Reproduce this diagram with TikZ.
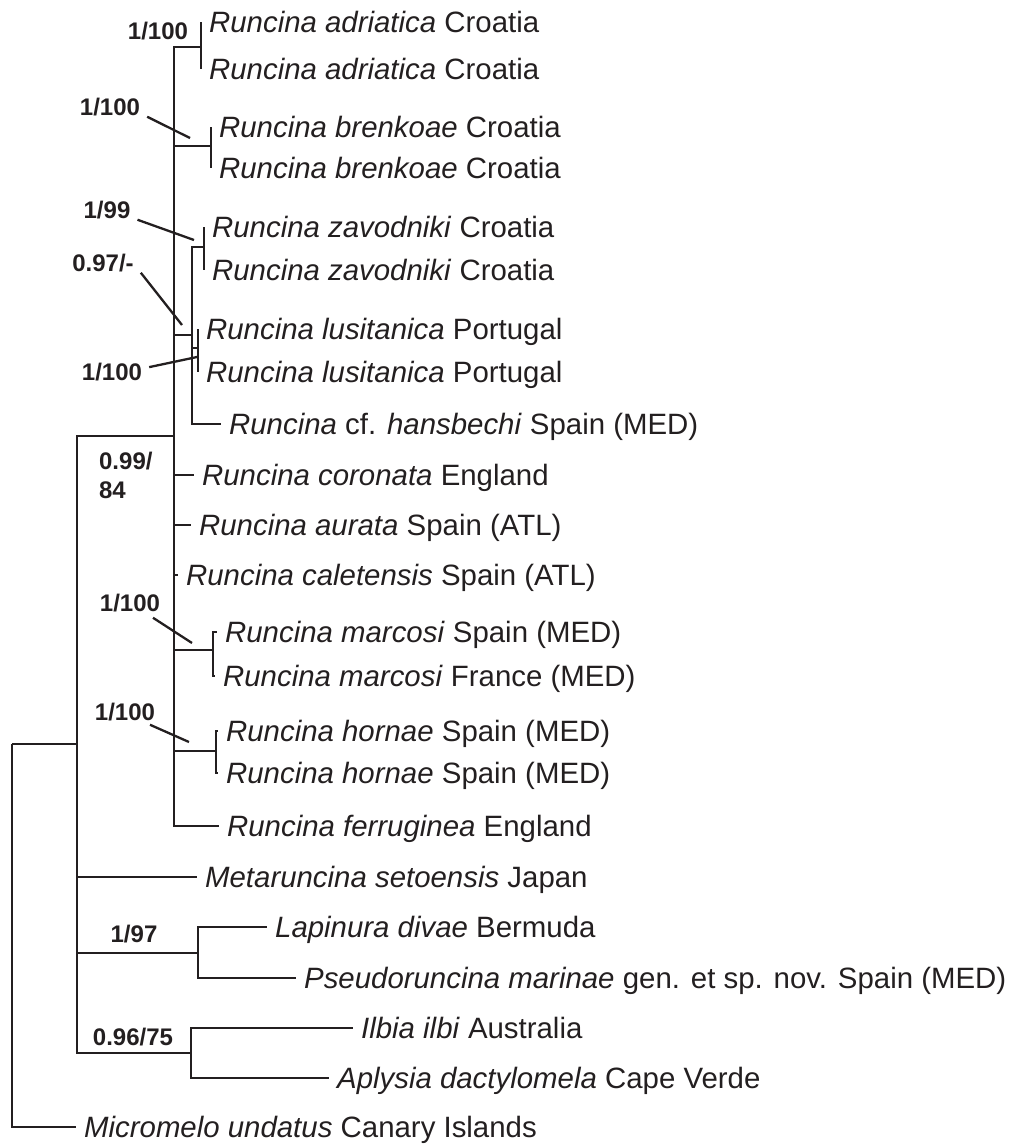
\documentclass[tikz,border=0pt]{standalone}
\usepackage{fontspec}
\setmainfont{Liberation Sans}
\usetikzlibrary{calc}
\definecolor{ast}{HTML}{231F20}

\begin{document}
\begin{tikzpicture}[x=0.5pt, y=-0.5pt, line width=1.15pt, color=ast,
	tip/.style={anchor=west, inner xsep=3.5pt, inner ysep=0pt, text height=10.5pt, text depth=0pt, font=\fontsize{14.7}{17}\selectfont},
	supp/.style={inner xsep=3pt, inner ysep=0pt, text height=8.6pt, text depth=0pt, font=\bfseries\fontsize{12}{14}\selectfont}]
	
	\useasboundingbox (0,0) rectangle (1011,1146);
	
	% Taxa
	\node[tip] (adr1) at (201,22) {\textit{Runcina adriatica} Croatia};
	\node[tip] (adr2) at (201,69) {\textit{Runcina adriatica} Croatia};
	\node[tip] (bre1) at (211,127) {\textit{Runcina brenkoae} Croatia};
	\node[tip] (bre2) at (211,168) {\textit{Runcina brenkoae} Croatia};
	\node[tip] (zav1) at (204,227) {\textit{Runcina zavodniki} Croatia};
	\node[tip] (zav2) at (204,270) {\textit{Runcina zavodniki} Croatia};
	\node[tip] (lus1) at (198,329) {\textit{Runcina lusitanica} Portugal};
	\node[tip] (lus2) at (198,372) {\textit{Runcina lusitanica} Portugal};
	\node[tip] (han) at (221,424) {\textit{Runcina} cf. \textit{hansbechi} Spain (MED)};
	\node[tip] (cor) at (194,475) {\textit{Runcina coronata} England};
	\node[tip] (aur) at (191,525) {\textit{Runcina aurata} Spain (ATL)};
	\node[tip] (cal) at (178,575) {\textit{Runcina caletensis} Spain (ATL)};
	\node[tip] (mar1) at (217,632) {\textit{Runcina marcosi} Spain (MED)};
	\node[tip] (mar2) at (215,676) {\textit{Runcina marcosi} France (MED)};
	\node[tip] (hor1) at (218,731) {\textit{Runcina hornae} Spain (MED)};
	\node[tip] (hor2) at (218,773) {\textit{Runcina hornae} Spain (MED)};
	\node[tip] (fer) at (219,826) {\textit{Runcina ferruginea} England};
	\node[tip] (met) at (197,877) {\textit{Metaruncina setoensis} Japan};
	\node[tip] (lap) at (267,927) {\textit{Lapinura divae} Bermuda};
	\node[tip] (pse) at (296,978) {\textit{Pseudoruncina marinae} gen. et sp. nov. Spain (MED)};
	\node[tip] (ilb) at (353,1028) {\textit{Ilbia ilbi} Australia};
	\node[tip] (apl) at (329,1078) {\textit{Aplysia dactylomela} Cape Verde};
	\node[tip] (mic) at (76,1127) {\textit{Micromelo undatus} Canary Islands};
	
	% Innere Knoten
	\coordinate (root) at (12,744);
	\coordinate (ingr) at (77,744);
	\coordinate (runc) at (174,436);
	\coordinate (adr) at (201,47);
	\coordinate (bre) at (211,146);
	\coordinate (zlh) at (192,335);
	\coordinate (zav) at (204,247);
	\coordinate (lus) at (198,348);
	\coordinate (mar) at (213,650);
	\coordinate (hor) at (216,751);
	\coordinate (lps) at (198,953);
	\coordinate (iap) at (191,1053);
	
	% Aeste
	\foreach \a/\b in {root/ingr, root/mic.west, ingr/runc, ingr/met.west, ingr/lps, ingr/iap,
		runc/adr, runc/bre, runc/zlh, runc/cor.west, runc/aur.west, runc/cal.west, runc/mar, runc/hor, runc/fer.west,
		adr/adr1.west, adr/adr2.west, bre/bre1.west, bre/bre2.west,
		zlh/zav, zlh/lus, zlh/han.west, zav/zav1.west, zav/zav2.west, lus/lus1.west, lus/lus2.west,
		mar/mar1.west, mar/mar2.west, hor/hor1.west, hor/hor2.west,
		lps/lap.west, lps/pse.west, iap/ilb.west, iap/apl.west}
		\draw (\a) |- (\b);
	
	% Stuetzwerte
	\node[supp] (s1) at (158,31) {1/100};
	
	\node[supp] (s2) at (110,107) {1/100};
	\coordinate (k2) at (190,138);
	\draw (s2.south east) -- (k2);
	
	\node[supp] (s3) at (107,210) {1/99};
	\coordinate (k3) at (194,240);
	\draw (s3.south east) -- (k3);
	
	\node[supp] (s4) at (103,263) {0.97/-};
	\coordinate (k4) at (182,325);
	\draw (s4.south east) -- (k4);
	
	\node[supp] (s5) at (112,372) {1/100};
	\coordinate (k5) at (197,357);
	\draw ($(s5.east)!0.5!(s5.north east)$) -- (k5);
	
	\node[supp, anchor=west] (s6) at (92,461) {0.99/};
	\node[supp, anchor=west] (s6b) at (92,490) {84};
	
	\node[supp] (s7) at (130,603) {1/100};
	\coordinate (k7) at (192,643);
	\draw ($(s7.south)+(23,5)$) -- (k7);
	
	\node[supp] (s8) at (125,712) {1/100};
	\coordinate (k8) at (189,742);
	\draw ($(s8.south)+(25,3)$) -- (k8);
	
	\node[supp] (s9) at (134,934) {1/97};
	\node[supp] (s10) at (133,1037) {0.96/75};
	
\end{tikzpicture}
\end{document}
